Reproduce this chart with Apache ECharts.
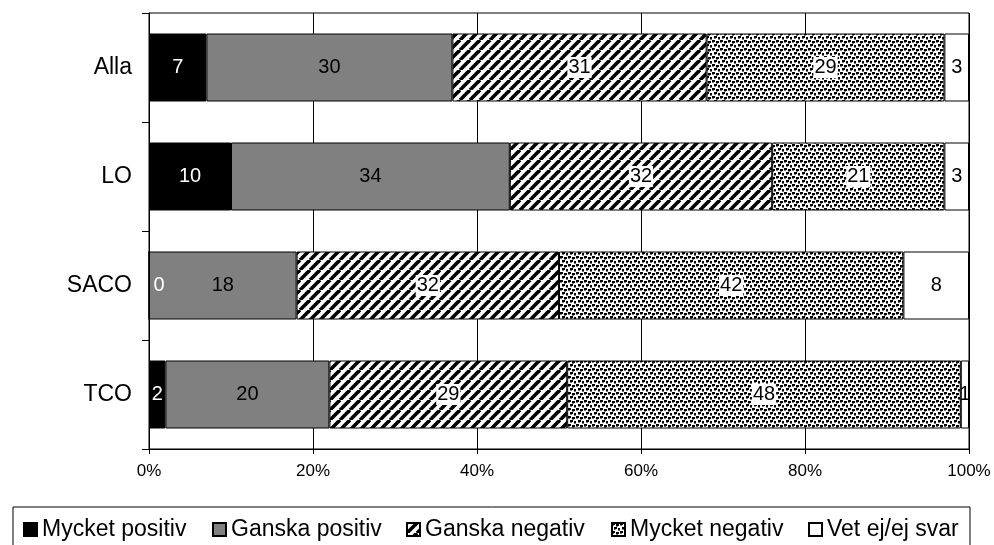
<!DOCTYPE html>
<html>
<head>
<meta charset="utf-8">
<script src="https://cdn.jsdelivr.net/npm/echarts@6/dist/echarts.min.js"></script>
<style>
html,body{margin:0;padding:0;background:#fff;}
#chart{width:994px;height:545px;}
</style>
</head>
<body>
<div id="chart"></div>
<script>
const categories = ['Alla', 'LO', 'SACO', 'TCO'];
const seriesNames = ['Mycket positiv', 'Ganska positiv', 'Ganska negativ', 'Mycket negativ', 'Vet ej/ej svar'];
const mycketPositiv = [7, 10, 0, 2];
const ganskaPositiv = [30, 34, 18, 20];
const ganskaNegativ = [31, 32, 32, 29];
const mycketNegativ = [29, 21, 42, 48];
const vetEj = [3, 3, 8, 1];
const xMin = 0, xMax = 100, xInterval = 20;

function hatchPattern() {
  const s = 10;
  const c = document.createElement('canvas');
  c.width = s; c.height = s;
  const g = c.getContext('2d');
  g.fillStyle = '#fff'; g.fillRect(0, 0, s, s);
  g.strokeStyle = '#000'; g.lineWidth = 3.6;
  [-s, 0, s].forEach(o => { g.beginPath(); g.moveTo(o, s); g.lineTo(o + s, 0); g.stroke(); });
  return c;
}
function dotPattern() {
  const c = document.createElement('canvas');
  c.width = 8; c.height = 8;
  const g = c.getContext('2d');
  g.fillStyle = '#fff'; g.fillRect(0, 0, 8, 8);
  g.fillStyle = '#000';
  [[0,0],[4,1],[2,4],[6,5]].forEach(p => g.fillRect(p[0], p[1], 3, 2));
  g.fillStyle = '#777';
  [[0,2],[4,3],[2,6],[6,7]].forEach(p => g.fillRect(p[0], p[1], 2, 1));
  return c;
}

const font = '"Liberation Sans", Arial, sans-serif';
const chart = echarts.init(document.getElementById('chart'), null, {renderer: 'canvas'});

const styles = [
  {color: '#000', label: {color: '#fff'}},
  {color: '#808080', label: {color: '#000'}},
  {color: {image: hatchPattern(), repeat: 'repeat'}, label: {color: '#000', backgroundColor: '#fff', padding: [1, 1, 0, 1]}},
  {color: {image: dotPattern(), repeat: 'repeat'}, label: {color: '#000', backgroundColor: '#fff', padding: [1, 1, 0, 1]}},
  {color: '#fff', label: {color: '#000'}}
];
const allData = [mycketPositiv, ganskaPositiv, ganskaNegativ, mycketNegativ, vetEj];

const series = allData.map((arr, i) => ({
  name: seriesNames[i],
  type: 'bar',
  stack: 'total',
  barWidth: 68,
  itemStyle: {color: styles[i].color, borderColor: '#000', borderWidth: 1},
  label: Object.assign({show: true, position: 'inside', fontSize: 20, fontFamily: font}, styles[i].label),
  emphasis: {disabled: true},
  data: arr.map(v => v === 0 ? {value: v, label: {position: 'right', distance: 4}} : v)
}));

const legendLefts = [23, 212, 406, 611, 808];
const legends = seriesNames.map((n, i) => ({
  data: [n],
  left: legendLefts[i],
  top: 518,
  padding: 0,
  icon: 'rect',
  itemWidth: 13,
  itemHeight: 13,
  itemGap: 0,
  selectedMode: false,
  textStyle: {fontSize: 23, fontFamily: font, color: '#000', lineHeight: 22}
}));

chart.setOption({
  animation: false,
  backgroundColor: '#fff',
  grid: {left: 149, right: 25, top: 13, bottom: 96, show: true, borderColor: '#000', borderWidth: 1},
  xAxis: {
    type: 'value', min: xMin, max: xMax, interval: xInterval,
    axisLine: {show: true, lineStyle: {color: '#000'}},
    axisTick: {show: true, length: 5, lineStyle: {color: '#000'}},
    splitLine: {show: true, lineStyle: {color: '#000', width: 1}},
    axisLabel: {formatter: '{value}%', fontSize: 17, fontFamily: font, color: '#000', margin: 14}
  },
  yAxis: {
    type: 'category', data: categories, inverse: true,
    axisLine: {show: true, lineStyle: {color: '#000'}},
    axisTick: {show: true, length: 7, lineStyle: {color: '#000'}},
    axisLabel: {fontSize: 23, fontFamily: font, color: '#000', margin: 17}
  },
  legend: legends,
  graphic: [{
    type: 'rect', shape: {x: 13, y: 507, width: 957, height: 60},
    style: {fill: 'none', stroke: '#000', lineWidth: 1}, silent: true
  }],
  series: series
});
</script>
</body>
</html>
